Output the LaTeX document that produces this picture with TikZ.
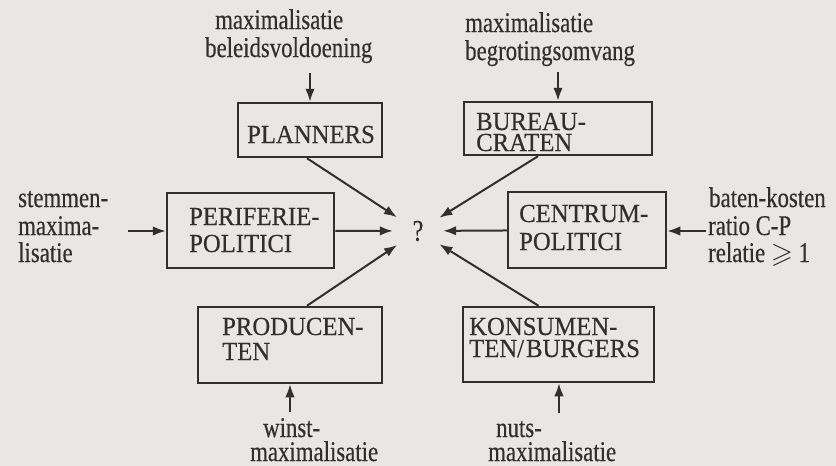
\documentclass[tikz,border=0pt]{standalone}
\usepackage{amssymb}
\usepackage{fontspec}
\setmainfont{Liberation Serif}[FakeStretch=0.8,FakeBold=0.4]
\newfontfamily\capsfont{Liberation Serif}[FakeStretch=0.95,FakeBold=0.4]
\usetikzlibrary{arrows.meta,shapes.geometric}
\definecolor{ink}{HTML}{332F2F}
\definecolor{paper}{HTML}{E9E6E3}
\tikzset{
  box/.style={draw=ink, line width=2.5pt, inner sep=0pt, rectangle},
  txt/.style={font=\fontsize{28.5}{28.5}\selectfont, text=ink, inner sep=0pt, anchor=base west},
  captxt/.style={font=\capsfont\fontsize{26}{26}\selectfont, text=ink, inner sep=0pt, anchor=base west},
  arr/.style={draw=ink, line width=2pt, -{Latex[length=13pt,width=9.5pt]}}
}
\begin{document}
\begin{tikzpicture}[x=1pt,y=-1pt]
\fill[paper] (0,0) rectangle (836,466);
\useasboundingbox (0,0) rectangle (836,466);

% boxes
\node[box, minimum width=144pt, minimum height=54pt] (plan) at (310,130) {};
\node[box, minimum width=188pt, minimum height=53pt] (bur) at (558,128.5) {};
\node[box, minimum width=167pt, minimum height=75pt] (peri) at (250.5,230.5) {};
\node[box, minimum width=158pt, minimum height=76pt] (cen) at (587,230) {};
\node[box, minimum width=184pt, minimum height=76pt] (prod) at (290,345) {};
\node[box, minimum width=191pt, minimum height=75pt] (kon) at (558.5,344.5) {};

% box texts
\node[captxt] (tplan) at (247,143) {PLANNERS};
\node[captxt] (tbur1) at (476,130) {BUREAU-};
\node[captxt] (tbur2) at (476,151) {CRATEN};
\node[captxt] (tperi1) at (189,225) {PERIFERIE-};
\node[captxt] (tperi2) at (189,252) {POLITICI};
\node[captxt] (tcen1) at (519,222) {CENTRUM-};
\node[captxt] (tcen2) at (519,250) {POLITICI};
\node[captxt] (tprod1) at (222,335) {PRODUCEN-};
\node[captxt] (tprod2) at (222,360) {TEN};
\node[captxt] (tkon1) at (469,335) {KONSUMEN-};
\node[captxt] (tkon2) at (469,357) {TEN/\hspace{2pt}BURGERS};

% centre
\node[circle, minimum size=50pt, inner sep=0pt, font=\fontsize{30}{30}\selectfont, text=ink] (q) at (418,231) {?};

% outside labels
\node[txt] (l1a) at (215,29) {maximalisatie};
\node[txt] (l1b) at (205,57) {beleidsvoldoening};
\node[txt] (l2a) at (465,32) {maximalisatie};
\node[txt] (l2b) at (465,60) {begrotingsomvang};
\node[txt] (l3a) at (18,207) {stemmen-};
\node[txt] (l3b) at (18,235) {maxima-};
\node[txt] (l3c) at (18,262) {lisatie};
\node[txt] (l4a) at (709,207) {baten-kosten};
\node[txt] (l4b) at (708,235) {ratio C-P};
\node[txt] (l4c) at (708,262) {relatie $\geqslant$ 1};
\node[txt] (l5a) at (263,437) {winst-};
\node[txt] (l5b) at (250,461) {maximalisatie};
\node[txt] (l6a) at (496,437) {nuts-};
\node[txt] (l6b) at (488,461) {maximalisatie};

% free ends
\coordinate (in1) at (310,73);
\coordinate (in2) at (558,72);
\coordinate (in3) at (128,231);
\coordinate (in4) at (706,231);
\coordinate (in5) at (290,412);
\coordinate (in6) at (559,413);

\draw[arr] (in1) -- (in1 |- plan.north);
\draw[arr] (in2) -- (in2 |- bur.north);
\draw[arr] (in3) -- (in3 -| peri.west);
\draw[arr] (in4) -- (in4 -| cen.east);
\draw[arr] (in5) -- (in5 |- prod.south);
\draw[arr] (in6) -- (in6 |- kon.south);

\draw[arr] ([xshift=-3pt]plan.south) -- (q);
\draw[arr] ([xshift=-20pt]bur.south) -- (q);
\draw[arr] (peri) -- (q);
\draw[arr] (cen) -- (q);
\draw[arr] ([xshift=17pt]prod.north) -- (q);
\draw[arr] ([xshift=-20pt]kon.north) -- (q);
\end{tikzpicture}
\end{document}
